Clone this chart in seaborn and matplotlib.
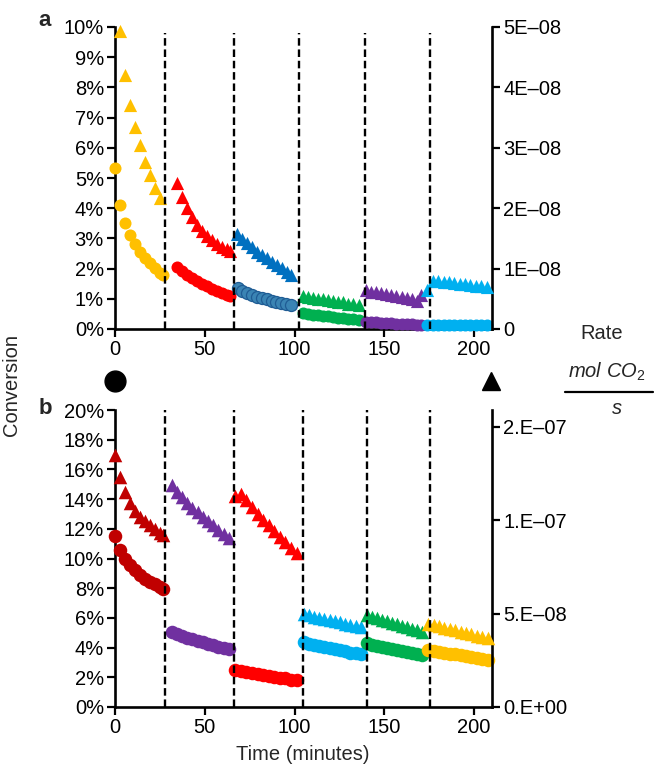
import matplotlib
matplotlib.use("Agg")
import matplotlib.pyplot as plt
import seaborn as sns
import pandas as pd
from matplotlib.lines import Line2D

sns.set_style("ticks")
plt.rcParams["font.family"] = ["Liberation Sans", "DejaVu Sans"]
plt.rcParams["axes.linewidth"] = 1.6
plt.rcParams["mathtext.fontset"] = "custom"
plt.rcParams["mathtext.it"] = "Liberation Sans:italic"
plt.rcParams["mathtext.rm"] = "Liberation Sans"

FS = 14.5

# ---------------- Panel a ----------------
a_colors = ["#FFC000", "#FF0000", "#0070C0", "#00B050", "#7030A0", "#00B0F0"]
a_circle_colors = ["#FFC000", "#FF0000", "#3A84B4", "#00B050", "#7030A0", "#00B0F0"]
a_circle_edges = ["#FFC000", "#FF0000", "#1F5C94", "#00B050", "#7030A0", "#00B0F0"]

# conversion (%), circles
a_conv_t = [
    [0, 2.8, 5.6, 8.4, 11.2, 14.0, 16.8, 19.6, 22.4, 25.2, 26.6],
    [34.3, 37.1, 39.9, 42.7, 45.5, 48.3, 51.1, 53.9, 56.7, 59.5, 62.3, 64.0],
    [68.3, 71.0, 73.7, 76.4, 79.1, 81.8, 84.5, 87.2, 89.9, 92.6, 95.3, 98.0],
    [104.8, 107.6, 110.4, 113.2, 116.0, 118.8, 121.6, 124.4, 127.2, 130.0, 132.8, 135.8],
    [140.0, 142.8, 145.6, 148.4, 151.2, 154.0, 156.8, 159.6, 162.4, 165.2, 168.0, 170.5],
    [174.0, 177.0, 180.0, 183.0, 186.0, 189.0, 192.0, 195.0, 198.0, 201.0, 204.0, 207.0],
]
a_conv = [
    [5.32, 4.11, 3.52, 3.11, 2.80, 2.56, 2.36, 2.18, 2.01, 1.86, 1.80],
    [2.06, 1.92, 1.79, 1.68, 1.58, 1.49, 1.41, 1.34, 1.27, 1.20, 1.14, 1.09],
    [1.35, 1.26, 1.18, 1.12, 1.07, 1.02, 0.98, 0.94, 0.90, 0.86, 0.82, 0.79],
    [0.52, 0.50, 0.48, 0.46, 0.44, 0.42, 0.40, 0.38, 0.36, 0.34, 0.32, 0.30],
    [0.24, 0.23, 0.22, 0.21, 0.20, 0.19, 0.18, 0.17, 0.16, 0.15, 0.14, 0.14],
    [0.14, 0.14, 0.14, 0.13, 0.13, 0.13, 0.13, 0.13, 0.13, 0.13, 0.13, 0.13],
]
# rate (mol CO2 / s), triangles
a_rate_t = [
    [2.8, 5.6, 8.4, 11.2, 14.0, 16.8, 19.6, 22.4, 25.2],
    [34.3, 37.1, 39.9, 42.7, 45.5, 48.3, 51.1, 53.9, 56.7, 59.5, 62.3, 64.3],
    [67.7, 70.5, 73.3, 76.1, 78.9, 81.7, 84.5, 87.3, 90.1, 92.9, 95.7, 98.3],
    [104.8, 107.6, 110.4, 113.2, 116.0, 118.8, 121.6, 124.4, 127.2, 130.0, 132.8, 135.8],
    [140.0, 142.8, 145.6, 148.4, 151.2, 154.0, 156.8, 159.6, 162.4, 165.2, 168.0, 170.5],
    [174.0, 177.0, 180.0, 183.0, 186.0, 189.0, 192.0, 195.0, 198.0, 201.0, 204.0, 207.0],
]
a_rate = [
    [4.93e-08, 4.21e-08, 3.71e-08, 3.35e-08, 3.04e-08, 2.77e-08, 2.55e-08, 2.33e-08, 2.17e-08],
    [2.41e-08, 2.19e-08, 2.01e-08, 1.86e-08, 1.73e-08, 1.62e-08, 1.54e-08, 1.47e-08, 1.41e-08, 1.36e-08, 1.32e-08, 1.29e-08],
    [1.58e-08, 1.49e-08, 1.42e-08, 1.35e-08, 1.28e-08, 1.22e-08, 1.17e-08, 1.11e-08, 1.06e-08, 1.01e-08, 0.95e-08, 0.90e-08],
    [0.54e-08, 0.53e-08, 0.52e-08, 0.50e-08, 0.49e-08, 0.48e-08, 0.46e-08, 0.45e-08, 0.44e-08, 0.42e-08, 0.41e-08, 0.39e-08],
    [0.64e-08, 0.62e-08, 0.61e-08, 0.59e-08, 0.58e-08, 0.56e-08, 0.54e-08, 0.53e-08, 0.51e-08, 0.49e-08, 0.47e-08, 0.56e-08],
    [0.65e-08, 0.80e-08, 0.79e-08, 0.78e-08, 0.77e-08, 0.76e-08, 0.75e-08, 0.74e-08, 0.73e-08, 0.72e-08, 0.71e-08, 0.70e-08],
]
a_breaks = [27.9, 66.3, 102.5, 139.3, 175.5]
a_left_ticks = [0, 1, 2, 3, 4, 5, 6, 7, 8, 9, 10]
a_left_labels = ["0%", "1%", "2%", "3%", "4%", "5%", "6%", "7%", "8%", "9%", "10%"]
a_right_ticks = [0, 1e-08, 2e-08, 3e-08, 4e-08, 5e-08]
a_right_labels = ["0", "1E\u201308", "2E\u201308", "3E\u201308", "4E\u201308", "5E\u201308"]

# ---------------- Panel b ----------------
b_colors = ["#C00000", "#7030A0", "#FF0000", "#00B0F0", "#00B050", "#FFC000"]
b_conv_t = [
    [0, 2.8, 5.6, 8.3, 11.1, 13.9, 16.7, 19.5, 22.3, 25.1, 27.0],
    [31.5, 34.4, 37.3, 40.2, 43.1, 46.0, 48.9, 51.8, 54.7, 57.6, 60.5, 63.6],
    [67.0, 70.1, 73.2, 76.3, 79.4, 82.5, 85.6, 88.7, 91.8, 94.9, 98.0, 101.5],
    [105.0, 107.9, 110.8, 113.7, 116.6, 119.5, 122.4, 125.3, 128.2, 131.1, 134.0, 137.0],
    [140.5, 143.3, 146.1, 148.9, 151.7, 154.5, 157.3, 160.1, 162.9, 165.7, 168.5, 171.0],
    [174.5, 177.5, 180.5, 183.5, 186.5, 189.5, 192.5, 195.5, 198.5, 201.5, 204.5, 208.0],
]
b_conv = [
    [11.5, 10.6, 9.95, 9.55, 9.2, 8.9, 8.65, 8.45, 8.25, 8.05, 7.93],
    [5.07, 4.93, 4.80, 4.68, 4.57, 4.46, 4.36, 4.26, 4.16, 4.06, 3.97, 3.88],
    [2.49, 2.42, 2.35, 2.28, 2.22, 2.16, 2.10, 2.04, 1.98, 1.92, 1.85, 1.79],
    [4.35, 4.26, 4.18, 4.10, 4.02, 3.95, 3.88, 3.81, 3.74, 3.67, 3.61, 3.55],
    [4.29, 4.20, 4.12, 4.05, 3.97, 3.90, 3.83, 3.76, 3.69, 3.62, 3.56, 3.50],
    [3.84, 3.78, 3.72, 3.66, 3.60, 3.54, 3.48, 3.42, 3.36, 3.30, 3.23, 3.16],
]
b_rate_t = b_conv_t
b_rate = [
    [1.351e-07, 1.232e-07, 1.153e-07, 1.090e-07, 1.051e-07, 1.019e-07, 0.995e-07, 0.972e-07, 0.952e-07, 0.932e-07, 0.920e-07],
    [1.190e-07, 1.153e-07, 1.122e-07, 1.094e-07, 1.067e-07, 1.043e-07, 1.019e-07, 0.995e-07, 0.972e-07, 0.948e-07, 0.928e-07, 0.906e-07],
    [1.130e-07, 1.142e-07, 1.106e-07, 1.070e-07, 1.035e-07, 1.003e-07, 0.972e-07, 0.940e-07, 0.909e-07, 0.881e-07, 0.853e-07, 0.826e-07],
    [4.98e-08, 4.91e-08, 4.84e-08, 4.78e-08, 4.72e-08, 4.65e-08, 4.59e-08, 4.53e-08, 4.46e-08, 4.40e-08, 4.34e-08, 4.27e-08],
    [4.90e-08, 4.82e-08, 4.74e-08, 4.66e-08, 4.58e-08, 4.50e-08, 4.42e-08, 4.35e-08, 4.27e-08, 4.19e-08, 4.11e-08, 4.01e-08],
    [4.46e-08, 4.38e-08, 4.31e-08, 4.24e-08, 4.17e-08, 4.10e-08, 4.03e-08, 3.96e-08, 3.89e-08, 3.82e-08, 3.74e-08, 3.67e-08],
]
b_breaks = [27.9, 66.3, 104.7, 140.4, 175.5]
b_left_ticks = [0, 2, 4, 6, 8, 10, 12, 14, 16, 18, 20]
b_left_labels = ["0%", "2%", "4%", "6%", "8%", "10%", "12%", "14%", "16%", "18%", "20%"]
b_right_ticks = [0, 5e-08, 1e-07, 1.5e-07]
b_right_labels = ["0.E+00", "5.E\u201308", "1.E\u201307", "2.E\u201307"]

x_ticks = [0, 50, 100, 150, 200]

W, H = 654, 769
fig = plt.figure(figsize=(W / 100, H / 100), dpi=100)


def frac(left, top, right, bottom):
    return [left / W, 1 - bottom / H, (right - left) / W, (bottom - top) / H]


def style_axes(ax, axr, yt, yl, ylim, rt, rl, rlim):
    ax.set_xlim(0, 210)
    ax.set_ylim(*ylim)
    axr.set_ylim(*rlim)
    ax.set_xticks(x_ticks)
    ax.set_xticklabels([str(v) for v in x_ticks])
    ax.set_yticks(yt)
    ax.set_yticklabels(yl)
    axr.set_yticks(rt)
    axr.set_yticklabels(rl)
    for a in (ax, axr):
        a.spines["top"].set_visible(False)
        a.set_xlabel("")
        a.set_ylabel("")
        a.tick_params(length=5.5, width=1.6, labelsize=FS, color="black",
                      labelcolor="black", pad=2.5)
        for s in a.spines.values():
            s.set_color("black")
            s.set_linewidth(1.9)
    ax.spines["right"].set_visible(False)
    axr.spines["left"].set_visible(False)
    axr.spines["bottom"].set_visible(False)


def draw_panel(ax, axr, conv_t, conv, rate_t, rate, colors, fills, edges, breaks,
               circle_s, tri_s, vtop):
    for i in range(len(conv)):
        dfc = pd.DataFrame({"t": conv_t[i], "v": conv[i]})
        sns.scatterplot(data=dfc, x="t", y="v", ax=ax, marker="o", s=circle_s,
                        color=fills[i], edgecolor=edges[i],
                        linewidth=0.9 if fills[i] != edges[i] else 0,
                        clip_on=False, zorder=3)
    for i in range(len(rate)):
        dfr = pd.DataFrame({"t": rate_t[i], "r": rate[i]})
        sns.scatterplot(data=dfr, x="t", y="r", ax=axr, marker="^", s=tri_s,
                        color=colors[i], linewidth=0, clip_on=False, zorder=3)
    for xb in breaks:
        axr.axvline(xb, ymin=0, ymax=vtop, color="black", lw=1.7,
                    dashes=(3.2, 1.6), zorder=5)


# panel a
ax_a = fig.add_axes(frac(115, 27, 492, 329))
ax_ar = ax_a.twinx()
draw_panel(ax_a, ax_ar, a_conv_t, a_conv, a_rate_t, a_rate, a_colors,
           a_circle_colors, a_circle_edges, a_breaks, 75, 90, 0.98)
style_axes(ax_a, ax_ar, a_left_ticks, a_left_labels, (0, 10),
           a_right_ticks, a_right_labels, (0, 5e-08))

# panel b
ax_b = fig.add_axes(frac(115, 410, 492, 707))
ax_br = ax_b.twinx()
draw_panel(ax_b, ax_br, b_conv_t, b_conv, b_rate_t, b_rate, b_colors,
           b_colors, b_colors, b_breaks, 95, 95, 1.0)
style_axes(ax_b, ax_br, b_left_ticks, b_left_labels, (0, 20),
           b_right_ticks, b_right_labels, (0, 1.59e-07))

# marker key and shared labels
fig.add_artist(Line2D([115 / W], [1 - 381 / H], marker="o", markersize=15,
                      color="black", linestyle="none", transform=fig.transFigure))
fig.add_artist(Line2D([491 / W], [1 - 381 / H], marker="^", markersize=13,
                      color="black", linestyle="none", transform=fig.transFigure))
fig.text(12 / W, 1 - 385 / H, "Conversion", rotation=90, ha="center", va="center",
         fontsize=FS)
fig.text(303 / W, 1 - 754 / H, "Time (minutes)", ha="center", va="center",
         fontsize=FS)
fig.text(45 / W, 1 - 20 / H, "a", ha="center", va="center", fontsize=16,
         fontweight="bold")
fig.text(45 / W, 1 - 409 / H, "b", ha="center", va="center", fontsize=16,
         fontweight="bold")
fig.text(602 / W, 1 - 334 / H, "Rate", ha="center", va="center", fontsize=FS)
fig.text(607 / W, 1 - 372 / H, r"$\mathit{mol\ CO_2}$", ha="center", va="center",
         fontsize=FS)
fig.add_artist(Line2D([565 / W, 653 / W], [1 - 392 / H, 1 - 392 / H], color="black",
                      lw=1.6, transform=fig.transFigure))
fig.text(617 / W, 1 - 409 / H, "s", ha="center", va="center", fontsize=FS,
         style="italic")

fig.savefig("out.png", dpi=100)
